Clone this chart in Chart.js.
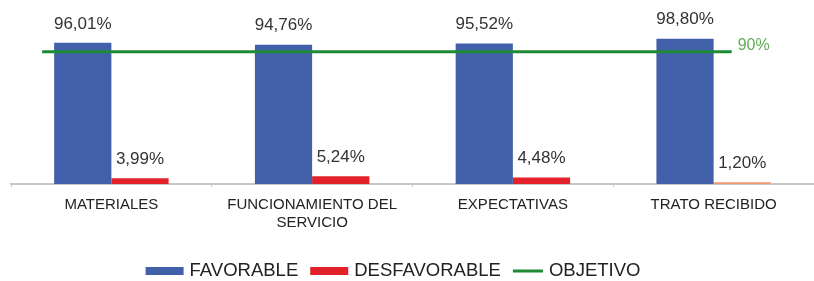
<!DOCTYPE html>
<html>
<head>
<meta charset="utf-8">
<script src="https://cdn.jsdelivr.net/npm/chart.js@4.4.1/dist/chart.umd.min.js"></script>
<style>
  html, body { margin: 0; padding: 0; background: #ffffff; }
  #wrap { width: 814px; height: 281px; position: relative; }
</style>
</head>
<body>
<div id="wrap"><canvas id="c" width="814" height="281"></canvas></div>
<script>
// ---- data ----
const categories = [["MATERIALES"], ["FUNCIONAMIENTO DEL", "SERVICIO"], ["EXPECTATIVAS"], ["TRATO RECIBIDO"]];
const favorable = [96.01, 94.76, 95.52, 98.80];
const desfavorable = [3.99, 5.24, 4.48, 1.20];
const objetivo = 90;
const objetivoSpan = [-0.345, 3.09]; // category-index units where the target line starts/ends
const seriesNames = ["FAVORABLE", "DESFAVORABLE", "OBJETIVO"];

const BLUE = '#4160a9', RED = '#e3212b', GREEN = '#1d8a35';
const FONT = '"Liberation Sans", Arial, sans-serif';
const fmt = v => v.toFixed(2).replace('.', ',') + '%';

const labelsPlugin = {
  id: 'valueLabels',
  afterDatasetsDraw(chart) {
    const ctx = chart.ctx;
    ctx.save();
    ctx.font = '17px ' + FONT;
    ctx.fillStyle = '#333333';
    ctx.textAlign = 'center';
    ctx.textBaseline = 'middle';
    [0, 1].forEach(di => {
      const meta = chart.getDatasetMeta(di);
      meta.data.forEach((bar, i) => {
        const v = chart.data.datasets[di].data[i];
        ctx.fillText(fmt(v), bar.x, bar.y - 19);
      });
    });
    const lm = chart.getDatasetMeta(2);
    const last = lm.data[lm.data.length - 1];
    ctx.font = '16px ' + FONT;
    ctx.fillStyle = '#5fae55';
    ctx.textAlign = 'left';
    ctx.fillText(objetivo + '%', last.x + 6, last.y - 6);
    ctx.restore();
  }
};

const legendPlugin = {
  id: 'customLegend',
  afterDraw(chart) {
    const ctx = chart.ctx;
    ctx.save();
    ctx.font = '18.5px ' + FONT;
    ctx.textBaseline = 'middle';
    ctx.textAlign = 'left';
    const items = [
      {name: seriesNames[0], type: 'box', color: BLUE, w: 38},
      {name: seriesNames[1], type: 'box', color: RED, w: 38},
      {name: seriesNames[2], type: 'line', color: GREEN, w: 30}
    ];
    const gapBox = 6, gapItem = 12;
    let total = 0;
    items.forEach((it, k) => {
      it.tw = ctx.measureText(it.name).width;
      total += it.w + gapBox + it.tw + (k < items.length - 1 ? gapItem : 0);
    });
    const cy = 271;
    let x = 393 - total / 2;
    items.forEach(it => {
      ctx.fillStyle = it.color;
      if (it.type === 'box') {
        ctx.fillRect(x, cy - 4, it.w, 8);
      } else {
        ctx.fillRect(x, cy - 1.5, it.w, 3);
      }
      x += it.w + gapBox;
      ctx.fillStyle = '#222222';
      ctx.fillText(it.name, x, cy);
      x += it.tw + gapItem;
    });
    ctx.restore();
  }
};

new Chart(document.getElementById('c'), {
  type: 'bar',
  data: {
    labels: categories,
    datasets: [
      {type: 'bar', label: seriesNames[0], data: favorable, backgroundColor: BLUE, order: 2,
       categoryPercentage: 0.57, barPercentage: 1.0},
      {type: 'bar', label: seriesNames[1], data: desfavorable,
       backgroundColor: [RED, RED, RED, '#ef9a6e'], order: 2,
       categoryPercentage: 0.57, barPercentage: 1.0},
      {type: 'line', label: seriesNames[2], parsing: false,
       data: objetivoSpan.map(x => ({x: x, y: objetivo})),
       borderColor: GREEN, borderWidth: 3, pointRadius: 0, fill: false, order: 0}
    ]
  },
  options: {
    responsive: false,
    animation: false,
    devicePixelRatio: 1,
    layout: {padding: {left: 11, right: -4, top: 37, bottom: 40}},
    plugins: {legend: {display: false}, tooltip: {enabled: false}},
    scales: {
      x: {
        type: 'category',
        offset: true,
        grid: {display: true, drawOnChartArea: false, drawTicks: true, tickLength: 3, color: '#c8c8c8', offset: true},
        border: {display: true, color: '#c8c8c8', width: 2},
        ticks: {font: {family: FONT, size: 15}, color: '#222222', padding: 9, maxRotation: 0, autoSkip: false}
      },
      y: {display: false, min: 0, max: 100}
    }
  },
  plugins: [labelsPlugin, legendPlugin]
});
</script>
</body>
</html>
